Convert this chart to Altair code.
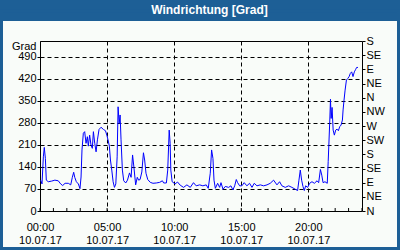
import altair as alt
import pandas as pd

# time in hours (10.07.17), wind direction in degrees
hours = [0.05, 0.15, 0.25, 0.32, 0.4, 0.47, 0.62, 0.87, 1.11, 1.36, 1.54, 1.69, 1.87, 2.11, 2.29,
         2.41, 2.51, 2.59, 2.71, 2.86, 2.98, 3.06, 3.13, 3.23, 3.33, 3.43, 3.53, 3.6, 3.7, 3.8,
         3.9, 3.98, 4.08, 4.18, 4.28, 4.4, 4.55, 4.73, 4.88, 4.98, 5.07, 5.17, 5.25, 5.35, 5.45,
         5.55, 5.65, 5.75, 5.82, 5.9, 5.97, 6.04, 6.14, 6.24, 6.39, 6.52, 6.67, 6.79, 6.9, 7.0,
         7.13, 7.25, 7.35, 7.46, 7.59, 7.71, 7.8, 7.9, 8.03, 8.22, 8.42, 8.67, 8.92, 9.12, 9.22,
         9.42, 9.52, 9.63, 9.7, 9.75, 9.85, 10.07, 10.25, 10.45, 10.7, 10.95, 11.2, 11.44, 11.64,
         11.9, 12.14, 12.39, 12.54, 12.69, 12.79, 12.89, 12.97, 13.07, 13.24, 13.39, 13.49, 13.64,
         13.81, 14.06, 14.23, 14.38, 14.51, 14.63, 14.73, 14.88, 15.05, 15.22, 15.42, 15.62, 15.8,
         15.97, 16.17, 16.42, 16.67, 16.92, 17.16, 17.41, 17.66, 17.86, 18.03, 18.28, 18.53, 18.78,
         19.03, 19.2, 19.3, 19.4, 19.5, 19.6, 19.7, 19.8, 19.95, 20.1, 20.27, 20.45, 20.65, 20.77,
         20.9, 21.0, 21.1, 21.24, 21.41, 21.48, 21.6, 21.65, 21.7, 21.77, 21.85, 21.94, 22.04,
         22.14, 22.24, 22.34, 22.44, 22.54, 22.59, 22.66, 22.74, 22.84, 22.94, 23.04, 23.13, 23.23,
         23.33, 23.43, 23.53, 23.6, 23.7]
degrees = [98, 86, 172, 202, 167, 98, 93, 95, 98, 96, 86, 81, 88, 88, 83,
           107, 123, 107, 93, 86, 71, 108, 194, 247, 252, 215, 236, 206, 241, 210,
           199, 252, 215, 188, 226, 259, 266, 259, 255, 241, 226, 206, 162, 130, 93,
           75, 86, 172, 331, 278, 305, 226, 130, 96, 89, 98, 121, 107, 178, 139,
           83, 107, 98, 100, 124, 185, 162, 120, 100, 91, 88, 89, 91, 96, 89,
           89, 130, 257, 215, 130, 93, 86, 92, 82, 75, 83, 75, 90, 80,
           83, 80, 83, 72, 120, 194, 167, 98, 72, 88, 75, 90, 69,
           78, 75, 80, 67, 80, 100, 90, 80, 80, 90, 80, 88, 75,
           88, 80, 83, 80, 83, 88, 98, 83, 93, 80, 75, 80, 75,
           69, 65, 98, 130, 98, 78, 65, 80, 75, 88, 93, 88, 96, 90,
           132, 114, 90, 93, 88, 157, 289, 355, 294, 329, 257, 241, 257,
           260, 255, 268, 273, 289, 321, 352, 384, 416, 421, 427, 437, 442,
           427, 442, 450, 456, 456]

x_label_hours = [0, 5, 10, 15, 20]
x_minor_hours = list(range(0, 25))
y_left_ticks = [0, 70, 140, 210, 280, 350, 420, 490]
y_right_ticks = [0, 45, 90, 135, 180, 225, 270, 315, 360, 405, 450, 495, 540]
compass = ["N", "NE", "E", "SE", "S", "SW", "W", "NW", "N", "NE", "E", "SE", "S"]
date_label = "10.07.17"
title_text = "Windrichtung [Grad]"

BLUE = "#1D5F96"
BG = "#F9FCF9"
FONT = "Liberation Sans"

df = pd.DataFrame({"h": hours, "v": degrees})
minor = pd.DataFrame({"h": x_minor_hours})
one = pd.DataFrame({"t": [title_text]})

xscale = alt.Scale(domain=[0, 24], nice=False, zero=False)
yscale = alt.Scale(domain=[0, 540], nice=False, zero=False)

x_axis = alt.Axis(
    values=x_label_hours, title=None, ticks=False, tickSize=0, domain=False,
    grid=True, gridDash=[4, 3], gridColor="black", gridOpacity=1, gridWidth=1,
    labelExpr="[(datum.value < 10 ? '0' : '') + datum.value + ':00', '%s']" % date_label,
    labelFont=FONT, labelFontSize=11, labelColor="black", labelLineHeight=13,
    labelPadding=10, labelFlush=False, labelOverlap=False, labelBaseline="top")

# decorative frame: title bar and border
bar = alt.Chart(one).mark_rect(color=BLUE).encode(
    x=alt.value(-40), x2=alt.value(360), y=alt.value(-41), y2=alt.value(-20))
border = alt.Chart(one).mark_rect(fillOpacity=0, stroke=BLUE, strokeWidth=3).encode(
    x=alt.value(-38.5), x2=alt.value(358.5), y=alt.value(-30), y2=alt.value(207.5))
title = alt.Chart(one).mark_text(
    color="white", font=FONT, fontSize=12, fontWeight="bold", align="center",
    baseline="middle").encode(
    text="t:N", x=alt.value(169.5), y=alt.value(-31))

minor_ticks = alt.Chart(minor).mark_rule(color="black", strokeWidth=1).encode(
    x=alt.X("h:Q", scale=xscale, axis=x_axis),
    y=alt.value(170), y2=alt.value(167))

compass_expr = "[" + ",".join("'%s'" % c for c in compass) + "][round(datum.value/45)]"

line = alt.Chart(df).mark_line(color="#0000FF", strokeWidth=1, clip=True).encode(
    x=alt.X("h:Q", scale=xscale, axis=x_axis),
    y=alt.Y("v:Q", scale=yscale, axis=alt.Axis(
        values=y_left_ticks, orient="left", title="Grad", titleAngle=0, titleAlign="right",
        titleX=-4, titleY=8, titleBaseline="alphabetic", titleFont=FONT, titleFontSize=11,
        titleFontWeight="normal", titleColor="black",
        ticks=True, tickSize=3, tickColor="black", domain=False,
        grid=True, gridDash=[4, 3], gridColor="black", gridOpacity=1, gridWidth=1,
        labelFont=FONT, labelFontSize=11, labelColor="black", labelPadding=1,
        labelFlush=False, labelOverlap=False)),
)

right = alt.Chart(df).mark_line(opacity=0).encode(
    x=alt.X("h:Q", scale=xscale, axis=x_axis),
    y=alt.Y("v:Q", scale=yscale, axis=alt.Axis(
        values=y_right_ticks, orient="right", title=None, labelExpr=compass_expr,
        ticks=True, tickSize=3, tickColor="black", domain=False, grid=False,
        labelFont=FONT, labelFontSize=11, labelColor="black", labelPadding=1,
        labelFlush=False, labelOverlap=False)),
)

chart = alt.layer(bar, border, title, minor_ticks, line, right).resolve_axis(
    y="independent"
).properties(
    width=322, height=170,
    background=BG,
    padding={"left": 40, "top": 41, "right": 38, "bottom": 39},
    autosize=alt.AutoSizeParams(type="none"),
).configure_view(stroke="black", strokeWidth=1)

chart.save("out.html", embed_options={"renderer": "svg", "actions": False})
